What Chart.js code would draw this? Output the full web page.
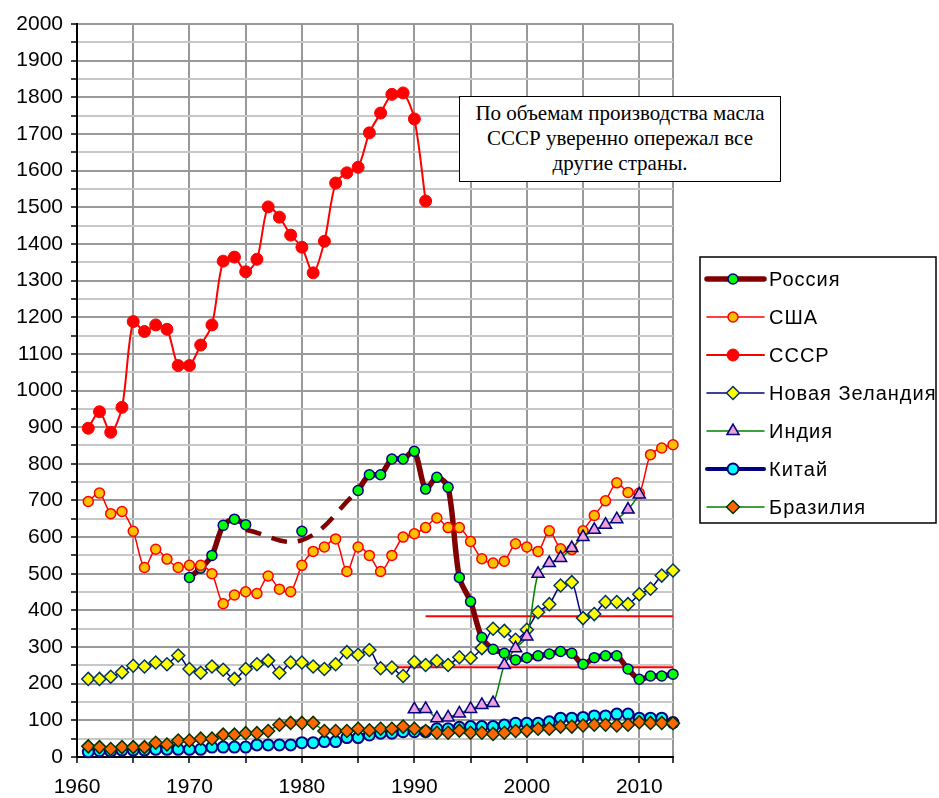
<!DOCTYPE html>
<html>
<head>
<meta charset="utf-8">
<script src="https://cdn.jsdelivr.net/npm/chart.js@4.4.0/dist/chart.umd.min.js"></script>
<style>
  body { margin: 0; background: #fff; }
  #wrap { position: relative; width: 939px; height: 798px; }
  #note {
    position: absolute; left: 459px; top: 96px; width: 322px; height: 86px;
    box-sizing: border-box; border: 1.5px solid #000; background: #fff;
    font-family: "Liberation Serif", "Times New Roman", serif; font-size: 21px;
    line-height: 25px; text-align: center; padding-top: 4px; color: #000;
  }
</style>
</head>
<body>
<div id="wrap">
  <canvas id="chart" width="939" height="798"></canvas>
  <div id="note">По объемам производства масла<br>СССР уверенно опережал все<br>другие страны.</div>
</div>
<script>
// values in thousand tonnes
var ussrStart = 1961;
var ussr = [897, 942, 886, 954, 1188, 1161, 1179, 1167, 1068, 1068, 1124, 1179, 1353, 1364, 1324, 1358,
  1501, 1473, 1424, 1391, 1321, 1407, 1566, 1594, 1609, 1703, 1757, 1808, 1812, 1741, 1517];

var usaStart = 1961;
var usa = [697, 720, 664, 670, 616, 517, 567, 540, 517, 523,
  523, 500, 418, 442, 451, 446, 494, 458, 451, 523,
  561, 573, 595, 506, 573, 550, 506, 550, 600, 609,
  626, 652, 626, 626, 588, 541, 529, 534, 582, 573,
  561, 617, 568, 566, 617, 659, 699, 748, 722, 720,
  825, 843, 852];

var russiaStart = 1970;
var russia = [490, 515, 550, 632, 649, 634, null, null, null, null,
  616, null, null, null, null, 727, 770, 770, 813, 813,
  834, 731, 763, 736, 490, 424, 326, 294, 283, 265,
  271, 276, 281, 288, 283, 253, 271, 276, 276, 240,
  212, 221, 221, 226];
// dashed estimate for the gap years
var russiaGapYears = [1975, 1980, 1985];
var russiaGap = [620, 592, 727];

var nzStart = 1961;
var nz = [213, 213, 219, 231, 249, 247, 258, 253, 277, 240,
  230, 247, 238, 213, 240, 253, 263, 230, 258, 258,
  247, 240, 253, 286, 279, 292, 242, 244, 221, 259,
  251, 262, 251, 272, 270, 297, 350, 344, 320, 347,
  395, 417, 468, 477, 379, 390, 423, 423, 417, 444,
  459, 495, 509];

var indiaStart = 1990;
var india = [130, 131, 106, 108, 119, 131, 142, 147, 251, 297,
  329, 500, 529, 543, 570, 600, 620, 634, 649, 675, 716];

var chinaStart = 1961;
var china = [14, 17, 16, 19, 19, 19, 21, 21, 21, 21,
  21, 27, 27, 27, 27, 33, 33, 33, 33, 39,
  39, 42, 42, 53, 53, 60, 65, 65, 69, 69,
  69, 77, 77, 81, 83, 83, 83, 87, 92, 92,
  92, 96, 106, 106, 108, 112, 112, 117, 117, 106,
  106, 106, 94];

var brazilStart = 1961;
var brazil = [29, 27, 22, 27, 27, 27, 39, 34, 45, 45,
  50, 50, 61, 61, 65, 65, 71, 88, 93, 93,
  93, 71, 71, 71, 77, 73, 77, 77, 83, 77,
  71, 66, 66, 72, 66, 66, 63, 66, 71, 72,
  77, 77, 83, 83, 86, 88, 88, 86, 88, 95,
  93, 93, 92];

// red reference levels
var lowLineYears = [1988.5, 2013];
var lowLine = [245, 245];
var highLineYears = [1991, 2013];
var highLine = [384, 384];

var xTicks = [1960, 1965, 1970, 1975, 1980, 1985, 1990, 1995, 2000, 2005, 2010, 2013];

var names = ["Россия", "США", "СССР", "Новая Зеландия", "Индия", "Китай", "Бразилия"];

function toPoints(start, values) {
  return values.map(function(v, i) { return { x: start + i, y: v }; });
}
function toXY(xs, ys) {
  return xs.map(function(x, i) { return { x: x, y: ys[i] }; });
}

var FONT = "'Liberation Sans', Arial, sans-serif";

var datasets = [
  {
    label: names[0], data: toPoints(russiaStart, russia), order: 7,
    borderColor: "#800000", borderWidth: 5.5, tension: 0.3, spanGaps: false,
    pointStyle: "circle", pointRadius: 5, pointBackgroundColor: "#00FF00",
    pointBorderColor: "#000080", pointBorderWidth: 1.5
  },
  {
    label: "Россия (оценка)", data: toXY(russiaGapYears, russiaGap), order: 8,
    borderColor: "#800000", borderWidth: 4.5, borderDash: [16, 11], tension: 0.4,
    pointRadius: 0
  },
  {
    label: names[1], data: toPoints(usaStart, usa), order: 6,
    borderColor: "#FF0000", borderWidth: 1.5, tension: 0.3,
    pointStyle: "circle", pointRadius: 5, pointBackgroundColor: "#FFC000",
    pointBorderColor: "#FF0000", pointBorderWidth: 1.5
  },
  {
    label: names[2], data: toPoints(ussrStart, ussr), order: 5,
    borderColor: "#FF0000", borderWidth: 2, tension: 0.3,
    pointStyle: "circle", pointRadius: 6, pointBackgroundColor: "#FF0000",
    pointBorderColor: "#FF0000", pointBorderWidth: 1
  },
  {
    label: names[3], data: toPoints(nzStart, nz), order: 4,
    borderColor: "#000080", borderWidth: 1.5, tension: 0.3,
    pointStyle: "rectRot", pointRadius: 6.5, pointBackgroundColor: "#FFFF00",
    pointBorderColor: "#003366", pointBorderWidth: 1.5
  },
  {
    label: names[4], data: toPoints(indiaStart, india), order: 3,
    borderColor: "#008000", borderWidth: 1.5, tension: 0.3,
    pointStyle: "triangle", pointRadius: 7, pointBackgroundColor: "#F0A0D8",
    pointBorderColor: "#000080", pointBorderWidth: 1.5
  },
  {
    label: names[5], data: toPoints(chinaStart, china), order: 2,
    borderColor: "#000080", borderWidth: 4, tension: 0.3,
    pointStyle: "circle", pointRadius: 5.5, pointBackgroundColor: "#00FFFF",
    pointBorderColor: "#000080", pointBorderWidth: 2
  },
  {
    label: names[6], data: toPoints(brazilStart, brazil), order: 1,
    borderColor: "#008000", borderWidth: 1.5, tension: 0.3,
    pointStyle: "rectRot", pointRadius: 6.5, pointBackgroundColor: "#FF6600",
    pointBorderColor: "#003300", pointBorderWidth: 1.5
  },
  {
    label: "low", data: toXY(lowLineYears, lowLine), order: 9,
    borderColor: "#FF0000", borderWidth: 2, pointRadius: 0
  },
  {
    label: "high", data: toXY(highLineYears, highLine), order: 9,
    borderColor: "#FF0000", borderWidth: 2, pointRadius: 0
  }
];
datasets.forEach(function(d) { d.clip = false; });

// marker for the legend
function drawMarker(ctx, style, x, y, r) {
  ctx.beginPath();
  if (style == "circle") {
    ctx.arc(x, y, r, 0, Math.PI * 2);
  } else if (style == "rectRot") {
    ctx.moveTo(x - r, y); ctx.lineTo(x, y - r); ctx.lineTo(x + r, y); ctx.lineTo(x, y + r);
  } else if (style == "triangle") {
    for (var k = 0; k < 3; k++) {
      var a = k * 2 * Math.PI / 3;
      var px = x + Math.sin(a) * r, py = y - Math.cos(a) * r;
      if (k == 0) ctx.moveTo(px, py); else ctx.lineTo(px, py);
    }
  }
  ctx.closePath();
  ctx.fill();
  ctx.stroke();
}

var legendBox = {
  id: "legendBox",
  afterDraw: function(chart) {
    var ctx = chart.ctx;
    var items = [0, 2, 3, 4, 5, 6, 7];
    ctx.save();
    ctx.fillStyle = "#fff";
    ctx.fillRect(700, 257, 236, 266);
    ctx.strokeStyle = "#000";
    ctx.lineWidth = 1.5;
    ctx.strokeRect(700, 257, 236, 266);
    ctx.font = "20px " + FONT;
    ctx.letterSpacing = "1px";
    ctx.textBaseline = "middle";
    for (var i = 0; i < items.length; i++) {
      var ds = chart.data.datasets[items[i]];
      var y = 279 + i * 38;
      ctx.strokeStyle = ds.borderColor;
      ctx.lineWidth = ds.borderWidth;
      ctx.lineCap = "round";
      ctx.beginPath();
      ctx.moveTo(707, y);
      ctx.lineTo(764, y);
      ctx.stroke();
      ctx.lineCap = "butt";
      ctx.fillStyle = ds.pointBackgroundColor;
      ctx.strokeStyle = ds.pointBorderColor;
      ctx.lineWidth = ds.pointBorderWidth;
      drawMarker(ctx, ds.pointStyle, 733, y, ds.pointRadius);
      ctx.fillStyle = "#000";
      ctx.fillText(ds.label, 769, y + 1);
    }
    ctx.restore();
  }
};

var chart = new Chart(document.getElementById("chart"), {
  type: "line",
  data: { datasets: datasets },
  plugins: [legendBox],
  options: {
    responsive: false,
    animation: false,
    layout: { padding: { top: 24, right: 266, left: 0, bottom: 0 } },
    plugins: { legend: { display: false }, tooltip: { enabled: false } },
    scales: {
      x: {
        type: "linear", min: 1960, max: 2013,
        afterBuildTicks: function(s) {
          s.ticks = xTicks.map(function(v) { return { value: v }; });
        },
        ticks: {
          autoSkip: false, maxRotation: 0, padding: 12, color: "#000",
          font: { family: FONT, size: 21 },
          callback: function(v) { return v % 10 === 0 ? String(v) : ""; }
        },
        grid: { color: "#999", lineWidth: 2, tickColor: "#000", tickLength: 6, tickWidth: 1.5 },
        border: { color: "#000", width: 2 },
        afterFit: function(s) { s.height = 41; }
      },
      y: {
        min: 0, max: 2000,
        ticks: {
          stepSize: 50, autoSkip: false, padding: 8, color: "#000",
          font: { family: FONT, size: 21 },
          callback: function(v) { return v % 100 === 0 ? String(v) : ""; }
        },
        grid: {
          color: function(c) { return c.tick && c.tick.value % 100 === 0 ? "#999" : "#c8c8c8"; },
          lineWidth: 2, tickColor: "#000", tickLength: 6, tickWidth: 1.5
        },
        border: { color: "#000", width: 2 },
        afterFit: function(s) { s.width = 77; }
      }
    }
  }
});
</script>
</body>
</html>
